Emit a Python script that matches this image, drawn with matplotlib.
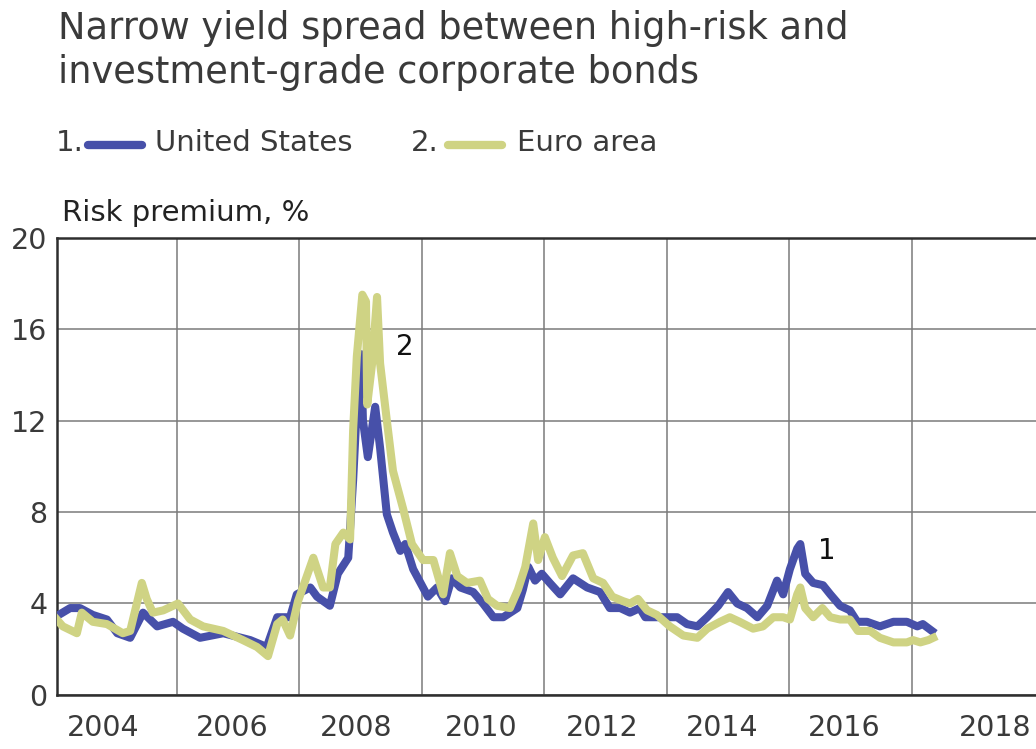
import matplotlib
matplotlib.use("Agg")
import matplotlib.pyplot as plt
from matplotlib.lines import Line2D

# values (year, risk premium %)
us_years = [2004.01, 2004.26, 2004.42, 2004.63, 2004.86, 2005.03, 2005.24, 2005.45, 2005.68, 2005.94,
            2006.10, 2006.38, 2006.76, 2007.20, 2007.47, 2007.64, 2007.85, 2007.96, 2008.18, 2008.29,
            2008.50, 2008.63, 2008.80, 2008.88, 2008.94, 2009.01, 2009.04, 2009.12, 2009.24, 2009.32,
            2009.43, 2009.53, 2009.65, 2009.73, 2009.86, 2010.02, 2010.10, 2010.25, 2010.38, 2010.49,
            2010.63, 2010.84, 2011.00, 2011.17, 2011.33, 2011.56, 2011.65, 2011.74, 2011.85, 2011.96,
            2012.09, 2012.26, 2012.47, 2012.70, 2012.91, 2013.07, 2013.24, 2013.40, 2013.56, 2013.65,
            2013.84, 2014.01, 2014.17, 2014.33, 2014.50, 2014.66, 2014.84, 2015.00, 2015.15, 2015.31,
            2015.48, 2015.64, 2015.80, 2015.90, 2016.01, 2016.13, 2016.18, 2016.26, 2016.39, 2016.55,
            2016.67, 2016.83, 2016.99, 2017.11, 2017.27, 2017.48, 2017.70, 2017.92, 2018.09, 2018.18,
            2018.33]
us_values = [3.4, 3.8, 3.8, 3.5, 3.3, 2.7, 2.5, 3.6, 3.0, 3.2,
             2.9, 2.5, 2.7, 2.4, 2.1, 3.4, 3.4, 4.4, 4.7, 4.3,
             3.9, 5.3, 6.0, 9.4, 12.6, 14.9, 12.0, 10.4, 12.6, 10.8,
             7.9, 7.1, 6.3, 6.6, 5.5, 4.7, 4.3, 4.7, 4.1, 5.1,
             4.7, 4.5, 4.0, 3.4, 3.4, 3.8, 4.6, 5.6, 5.0, 5.3,
             4.9, 4.4, 5.1, 4.7, 4.5, 3.8, 3.8, 3.6, 3.8, 3.4,
             3.4, 3.4, 3.4, 3.1, 3.0, 3.4, 3.9, 4.5, 4.0, 3.8,
             3.4, 3.9, 5.0, 4.4, 5.5, 6.4, 6.6, 5.3, 4.9, 4.8,
             4.4, 3.9, 3.7, 3.2, 3.2, 3.0, 3.2, 3.2, 3.0, 3.1,
             2.8]

euro_years = [2004.01, 2004.14, 2004.37, 2004.45, 2004.63, 2004.86, 2005.12, 2005.24, 2005.43, 2005.51,
              2005.61, 2005.78, 2006.02, 2006.22, 2006.43, 2006.76, 2007.08, 2007.31, 2007.49, 2007.64,
              2007.73, 2007.85, 2007.98, 2008.23, 2008.39, 2008.50, 2008.59, 2008.72, 2008.83, 2008.88,
              2008.94, 2009.03, 2009.09, 2009.11, 2009.19, 2009.27, 2009.32, 2009.43, 2009.53, 2009.70,
              2009.84, 2010.02, 2010.19, 2010.35, 2010.46, 2010.58, 2010.74, 2010.95, 2011.08, 2011.23,
              2011.44, 2011.57, 2011.69, 2011.82, 2011.90, 2012.01, 2012.14, 2012.29, 2012.47, 2012.63,
              2012.80, 2012.96, 2013.11, 2013.29, 2013.40, 2013.53, 2013.68, 2013.84, 2014.05, 2014.27,
              2014.50, 2014.66, 2014.87, 2015.03, 2015.19, 2015.41, 2015.57, 2015.74, 2015.90, 2016.01,
              2016.13, 2016.18, 2016.26, 2016.39, 2016.54, 2016.67, 2016.83, 2016.99, 2017.12, 2017.32,
              2017.48, 2017.70, 2017.92, 2018.02, 2018.14, 2018.27, 2018.35]
euro_values = [3.4, 3.0, 2.7, 3.6, 3.2, 3.1, 2.7, 2.8, 4.9, 4.2,
               3.6, 3.7, 4.0, 3.3, 3.0, 2.8, 2.4, 2.1, 1.7, 3.1,
               3.3, 2.6, 4.1, 6.0, 4.7, 4.7, 6.6, 7.1, 6.8, 11.6,
               14.8, 17.5, 17.2, 12.7, 14.5, 17.4, 14.5, 12.0, 9.8, 8.1,
               6.6, 5.9, 5.9, 4.4, 6.2, 5.2, 4.9, 5.0, 4.2, 3.9,
               3.8, 4.6, 5.6, 7.5, 5.9, 6.9, 6.0, 5.2, 6.1, 6.2,
               5.1, 4.9, 4.3, 4.1, 4.0, 4.2, 3.7, 3.5, 3.0, 2.6,
               2.5, 2.9, 3.2, 3.4, 3.2, 2.9, 3.0, 3.4, 3.4, 3.3,
               4.4, 4.7, 3.8, 3.4, 3.8, 3.4, 3.3, 3.3, 2.8, 2.8,
               2.5, 2.3, 2.3, 2.4, 2.3, 2.4, 2.5]

grid_years = [2006, 2008, 2010, 2012, 2014, 2016, 2018]
year_labels = ["2004", "2006", "2008", "2010", "2012", "2014", "2016", "2018"]
label_pos = [2004.8, 2006.9, 2008.93, 2010.97, 2012.95, 2014.91, 2016.9, 2019.36]
y_ticks = [0, 4, 8, 12, 16, 20]

blue = "#4750a9"
olive = "#cfd384"
text_col = "#3a3a3a"

fig = plt.figure(figsize=(10.36, 7.49), dpi=100)
ax = fig.add_axes([0.0553, 0.0721, 0.946, 0.6108])

ax.plot(us_years, us_values, color=blue, lw=5.8, solid_joinstyle="round", zorder=3)
ax.plot(euro_years, euro_values, color=olive, lw=5.8, solid_joinstyle="round", zorder=4)

ax.set_xlim(2004.05, 2020.05)
ax.set_ylim(0, 20)
ax.set_xticks(grid_years)
ax.set_xticklabels([])
ax.set_xticks(label_pos, minor=True)
ax.set_xticklabels(year_labels, minor=True)
ax.set_yticks(y_ticks)
ax.set_yticklabels([str(v) for v in y_ticks])
ax.tick_params(axis="both", which="both", length=0, labelsize=20.5, labelcolor=text_col)
ax.tick_params(axis="x", which="minor", pad=14)
ax.tick_params(axis="y", pad=7)
ax.grid(True, which="major", color="#7a7a7a", lw=1.1)
ax.set_axisbelow(True)
for side in ["left", "bottom", "top"]:
    ax.spines[side].set_color("#2e2e2e")
    ax.spines[side].set_linewidth(1.8)
ax.spines["right"].set_visible(False)

ax.text(2009.73, 15.2, "2", fontsize=20, color="#111111", ha="center", va="center")
ax.text(2016.61, 6.3, "1", fontsize=20, color="#111111", ha="center", va="center")

W, H = 1036, 749
fig.text(58 / W, 1 - 10 / H, "Narrow yield spread between high-risk and\ninvestment-grade corporate bonds",
         fontsize=26.5, color=text_col, ha="left", va="top", linespacing=1.24)
fig.text(62 / W, 1 - 213 / H, "Risk premium, %", fontsize=21, color="#222222", ha="left", va="center")

# legend
fig.text(56 / W, 1 - 143 / H, "1.", fontsize=21, color=text_col, ha="left", va="center")
fig.add_artist(Line2D([88 / W, 142 / W], [1 - 145 / H, 1 - 145 / H], color=blue, lw=6,
                      solid_capstyle="round", transform=fig.transFigure))
fig.text(155 / W, 1 - 143 / H, "United States", fontsize=21, color=text_col, ha="left", va="center")
fig.text(411 / W, 1 - 143 / H, "2.", fontsize=21, color=text_col, ha="left", va="center")
fig.add_artist(Line2D([448 / W, 502 / W], [1 - 145 / H, 1 - 145 / H], color=olive, lw=6,
                      solid_capstyle="round", transform=fig.transFigure))
fig.text(517 / W, 1 - 143 / H, "Euro area", fontsize=21, color=text_col, ha="left", va="center")

fig.savefig("out.png", dpi=100)
